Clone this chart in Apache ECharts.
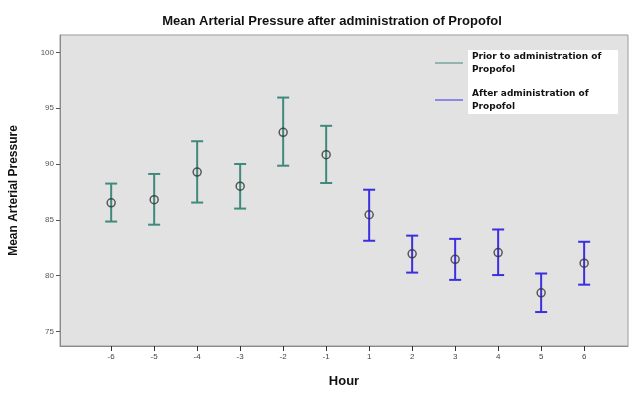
<!DOCTYPE html>
<html lang="en" style="height: 100%">
<head>
<meta charset="utf-8">
<title>Mean Arterial Pressure after administration of Propofol</title>
</head>
<body style="height: 100%; margin: 0; background: #fff">
<div id="container" style="width: 632px; height: 393px"></div>

<script type="text/javascript" src="https://cdn.jsdelivr.net/npm/echarts/dist/echarts.min.js"></script>

<script type="text/javascript">

var dom = document.getElementById('container');
var myChart = echarts.init(dom);

// Hours shown on the x axis (no hour 0)
var hours = ['-6', '-5', '-4', '-3', '-2', '-1', '1', '2', '3', '4', '5', '6'];

// Prior to administration (hours -6 .. -1)
var priorMean  = [86.53, 86.81, 89.28, 88.02, 92.84, 90.84];
var priorUpper = [88.25, 89.11, 92.04, 90.00, 95.95, 93.42];
var priorLower = [84.85, 84.57, 86.55, 86.01, 89.85, 88.30];

// After administration (hours 1 .. 6)
var afterMean  = [85.46, 81.96, 81.47, 82.07, 78.47, 81.12];
var afterUpper = [87.70, 83.59, 83.30, 84.14, 80.20, 83.04];
var afterLower = [83.13, 80.28, 79.63, 80.06, 76.75, 79.20];

var yTicks = [75, 80, 85, 90, 95, 100];

var priorColor = '#3f8a7c';
var afterColor = '#3b2fe0';

function barData(offset, lower, upper) {
    return lower.map(function (lo, i) {
        return [offset + i, lo, upper[i]];
    });
}
function meanData(offset, mean) {
    return mean.map(function (m, i) {
        return [offset + i, m];
    });
}

function renderBar(params, api) {
    var x = api.value(0);
    var lo = api.coord([x, api.value(1)]);
    var hi = api.coord([x, api.value(2)]);
    var half = 6;
    var style = { stroke: api.visual('color'), lineWidth: 2, fill: null };
    return {
        type: 'group',
        children: [
            { type: 'line', shape: { x1: lo[0], y1: lo[1], x2: hi[0], y2: hi[1] }, style: style },
            { type: 'line', shape: { x1: hi[0] - half, y1: hi[1], x2: hi[0] + half, y2: hi[1] }, style: style },
            { type: 'line', shape: { x1: lo[0] - half, y1: lo[1], x2: lo[0] + half, y2: lo[1] }, style: style }
        ]
    };
}

var tickIdx = hours.map(function (h, i) { return i; });

var meanStyle = { color: 'rgba(0,0,0,0)', borderColor: '#333', borderWidth: 1.5 };

var option = {
    animation: false,
    title: {
        text: 'Mean Arterial Pressure after administration of Propofol',
        left: 327,
        textAlign: 'center',
        top: 10,
        textStyle: { fontFamily: 'Liberation Sans', fontSize: 13, fontWeight: 'bold', color: '#111' }
    },
    grid: {
        left: 58,
        right: 4,
        top: 35,
        bottom: 35,
        show: true,
        backgroundColor: '#e2e2e2',
        borderColor: '#9a9a9a',
        borderWidth: 1
    },
    graphic: [{
        type: 'rect',
        left: 468,
        top: 50,
        shape: { width: 150, height: 64 },
        style: { fill: '#ffffff' },
        z: 5
    }],
    legend: {
        orient: 'vertical',
        left: 430,
        top: 45,
        z: 10,
        itemWidth: 28,
        itemHeight: 1,
        itemGap: 11,
        data: [
            { name: 'Prior to administration of\nPropofol', icon: 'rect' },
            { name: 'After administration of\nPropofol', icon: 'rect' }
        ],
        textStyle: { fontFamily: 'DejaVu Sans', fontSize: 9, fontWeight: 'bold', color: '#111', lineHeight: 13, padding: [0, 0, 0, 4] }
    },
    xAxis: {
        type: 'value',
        min: -1.19,
        max: 12.02,
        name: 'Hour',
        nameLocation: 'middle',
        nameGap: 29,
        nameTextStyle: { fontFamily: 'Liberation Sans', fontSize: 13, fontWeight: 'bold', color: '#111' },
        splitLine: { show: false },
        axisLine: { onZero: false, lineStyle: { color: '#8a8a8a' } },
        axisTick: { customValues: tickIdx, length: 5, lineStyle: { color: '#333' } },
        axisLabel: {
            customValues: tickIdx,
            margin: 7,
            fontFamily: 'Liberation Sans',
            fontSize: 8,
            color: '#444',
            formatter: function (v) { return hours[Math.round(v)]; }
        }
    },
    yAxis: {
        type: 'value',
        min: 73.71,
        max: 101.55,
        name: 'Mean Arterial Pressure',
        nameLocation: 'middle',
        nameGap: 40,
        nameTextStyle: { fontFamily: 'Liberation Sans', fontSize: 12, fontWeight: 'bold', color: '#111' },
        splitLine: { show: false },
        axisLine: { show: true, onZero: false, lineStyle: { color: '#8a8a8a' } },
        axisTick: { customValues: yTicks, length: 4, lineStyle: { color: '#555' } },
        axisLabel: {
            customValues: yTicks,
            margin: 6,
            fontFamily: 'Liberation Sans',
            fontSize: 8,
            color: '#555'
        }
    },
    series: [
        {
            name: 'Prior to administration of\nPropofol',
            type: 'custom',
            renderItem: renderBar,
            itemStyle: { color: priorColor },
            encode: { x: 0, y: [1, 2] },
            data: barData(0, priorLower, priorUpper),
            z: 2
        },
        {
            name: 'After administration of\nPropofol',
            type: 'custom',
            renderItem: renderBar,
            itemStyle: { color: afterColor },
            encode: { x: 0, y: [1, 2] },
            data: barData(6, afterLower, afterUpper),
            z: 2
        },
        {
            name: 'prior mean',
            type: 'scatter',
            symbol: 'circle',
            symbolSize: 8,
            itemStyle: meanStyle,
            data: meanData(0, priorMean),
            z: 3
        },
        {
            name: 'after mean',
            type: 'scatter',
            symbol: 'circle',
            symbolSize: 8,
            itemStyle: meanStyle,
            data: meanData(6, afterMean),
            z: 3
        }
    ]
};

if (option && typeof option === 'object') {
    myChart.setOption(option);
}

window.addEventListener('resize', myChart.resize);
</script>
</body>
</html>
